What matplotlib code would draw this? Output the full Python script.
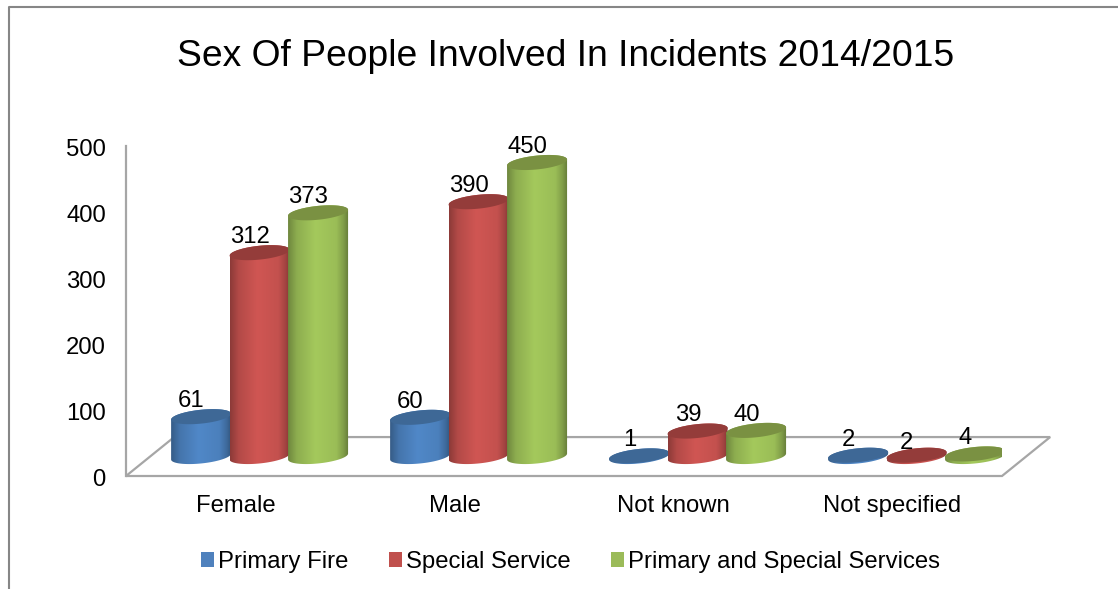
import matplotlib
matplotlib.use('Agg')
import matplotlib.pyplot as plt
import numpy as np
from matplotlib.colors import to_rgb
from matplotlib.lines import Line2D
from matplotlib.patches import Patch, Polygon
from matplotlib.transforms import ScaledTranslation

plt.rcParams['font.family'] = ['Liberation Sans', 'DejaVu Sans']

categories = ['Female', 'Male', 'Not known', 'Not specified']
primary_fire = [61, 60, 1, 2]
special_service = [312, 390, 39, 2]
primary_and_special = [373, 450, 40, 4]
series_names = ['Primary Fire', 'Special Service', 'Primary and Special Services']
y_ticks = [0, 100, 200, 300, 400, 500]

series = [primary_fire, special_service, primary_and_special]
body_colors = ['#5088C8', '#D05653', '#A4C95C']
top_colors = ['#3E6896', '#943C3A', '#7A9142']
legend_colors = ['#4F81BD', '#C0504D', '#9BBB59']

W, H = 1118, 589
GREY = '#A6A6A6'
FONT = 17.2

# floor depth, in data units
depth_x = 0.22
depth_y = 59
bar_step = 0.267
bar_a = 0.137
bar_b = 10.5
bar_tilt = 4.5
t = np.linspace(0, 2 * np.pi, 120)


def ring(cx, cy, t):
    return np.column_stack([cx + bar_a * np.cos(t), cy + bar_b * np.sin(t) + bar_tilt * np.cos(t)])


def cylinder(ax, cx, value, color, top_color, z):
    base = depth_y / 2
    top = base + value * 0.99
    lower = ring(cx, base, np.linspace(np.pi, 2 * np.pi, 60))
    upper = ring(cx, top, np.linspace(0, np.pi, 60))
    body = Polygon(np.vstack([lower, upper]), closed=True, fc='none', ec='none', zorder=z)
    ax.add_patch(body)

    # dark edges, bright middle
    shade = np.interp(np.linspace(0, 1, 60), [0, 0.14, 0.45, 0.8, 0.92, 1], [0.68, 0.86, 1, 0.94, 0.78, 0.62])
    strip = (np.array(to_rgb(color))[None, None, :] * shade[None, :, None]).clip(0, 1)
    low = base - bar_b - bar_tilt
    im = ax.imshow(strip, extent=[cx - bar_a, cx + bar_a, low, top + bar_b + bar_tilt],
                   aspect='auto', zorder=z, interpolation='bilinear')
    im.set_clip_path(body)

    ax.add_patch(Polygon(ring(cx, top, t), closed=True, fc=top_color, ec='none', zorder=z + 0.1))
    return top


fig = plt.figure(figsize=(W / 100, H / 100), dpi=100, facecolor='white')
ax = fig.add_axes([126 / W, 1 - 476 / H, 876 / W, 330 / H])

for s, values in enumerate(series):
    for i, v in enumerate(values):
        cx = i + 0.5 + depth_x / 2 + (s - 1) * bar_step
        top = cylinder(ax, cx, v, body_colors[s], top_colors[s], 3 + s + i * 0.01)
        # the middle label of the last group sits a little lower in the original
        lift = 8.5 if (s == 1 and i == 3) else 11.2
        ax.annotate(str(v), (cx, top), xytext=(-7, lift), textcoords='offset points',
                    ha='center', va='center', fontsize=FONT, color='black', zorder=10)

ax.add_patch(Polygon([(0, 0), (4, 0), (4 + depth_x, depth_y), (depth_x, depth_y)], closed=True,
                     fc='none', ec=GREY, lw=1.6, clip_on=False, zorder=1))

ax.set_xlim(0, 4)
ax.set_ylim(0, 500)
ax.set_xticks(np.arange(4) + 0.5)
ax.set_xticklabels(categories, fontsize=FONT)
ax.set_yticks(y_ticks)
ax.tick_params(axis='y', length=0, pad=14.5, labelsize=FONT)
ax.tick_params(axis='x', length=0, pad=13.7)
shift = ScaledTranslation(0, -1 / 72, fig.dpi_scale_trans)
for label in ax.get_yticklabels():
    label.set_transform(label.get_transform() + shift)
ax.patch.set_visible(False)
for name in ['top', 'right', 'bottom']:
    ax.spines[name].set_visible(False)
ax.spines['left'].set_color(GREY)
ax.spines['left'].set_linewidth(1.6)

fig.text(566 / W, 1 - 56 / H, 'Sex Of People Involved In Incidents 2014/2015',
         ha='center', va='center', fontsize=26.85, color='black')

# chart area border, cut off by the image at right and bottom
fig.add_artist(Line2D([9 / W, 9 / W, 1], [0, 1 - 6.5 / H, 1 - 6.5 / H], color='#868686', lw=1.5))

handles = [Patch(fc=c, ec='none') for c in legend_colors]
fig.legend(handles, series_names, loc='center', bbox_to_anchor=(570.5 / W, 1 - 562 / H), ncol=3,
           frameon=False, fontsize=FONT, handlelength=0.55, handleheight=0.55,
           handletextpad=0.17, columnspacing=1.7)

fig.savefig('out.png', dpi=100)
